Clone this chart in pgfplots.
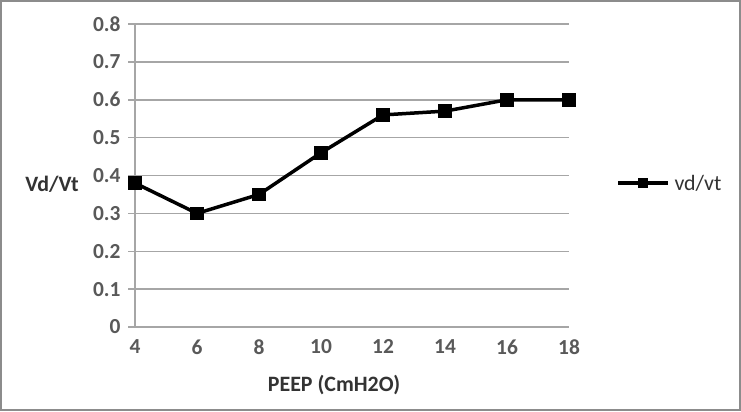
\documentclass[border=0pt]{standalone}
\usepackage{pgfplots}
\pgfplotsset{compat=1.18}
\usepackage{fontspec}
\setmainfont{Carlito}
\definecolor{tick}{HTML}{595959}
\definecolor{grid}{HTML}{A6A6A6}
\definecolor{frame}{HTML}{8C8C8C}
\begin{document}
\begin{tikzpicture}[x=1bp,y=-1bp]
\fill[white] (0,0) rectangle (741,411);
\draw[frame,line width=2bp] (1,1) rectangle (740,410);
\begin{axis}[
  at={(135bp,-327bp)}, anchor=origin,
  scale only axis, width=434bp, height=303bp,
  xmin=4, xmax=18, ymin=0, ymax=0.8,
  xtick={4,6,...,18}, ytick={0,0.1,...,0.8},
  yticklabels={0,0.1,0.2,0.3,0.4,0.5,0.6,0.7,0.8},
  axis x line*=bottom, axis y line*=left,
  axis line style={grid,line width=1.5bp,-},
  xmajorgrids=false, ymajorgrids=true,
  y grid style={grid,line width=1.5bp},
  ytick style={grid,line width=1.5bp},
  tick align=outside, major tick length=7bp,
  xtick style={draw=none},
  xticklabel style={yshift=-2bp},
  yticklabel style={xshift=-4bp},
  every tick label/.append style={font=\fontsize{21.5}{23}\selectfont\bfseries, text=tick},
  /pgf/number format/assume math mode=true,
  clip=false,
]
\addplot[black, line width=3.5bp, mark=square*, mark size=5bp, mark options={solid}] coordinates {
(4,0.38) (6,0.30) (8,0.35) (10,0.46) (12,0.56) (14,0.57) (16,0.60) (18,0.60)};
\end{axis}
\node[font=\fontsize{22}{24}\selectfont\bfseries, text=black!80] at (52,184) {Vd/Vt};
\node[font=\fontsize{22}{24}\selectfont\bfseries, text=black!80] at (334,385) {PEEP (CmH2O)};
\draw[black, line width=3.5bp] (618,183) -- (668,183);
\fill[black] (638,178) rectangle (648,188);
\node[font=\fontsize{22}{24}\selectfont, text=black!80, anchor=west] at (671,183) {vd/vt};
\end{tikzpicture}
\end{document}
